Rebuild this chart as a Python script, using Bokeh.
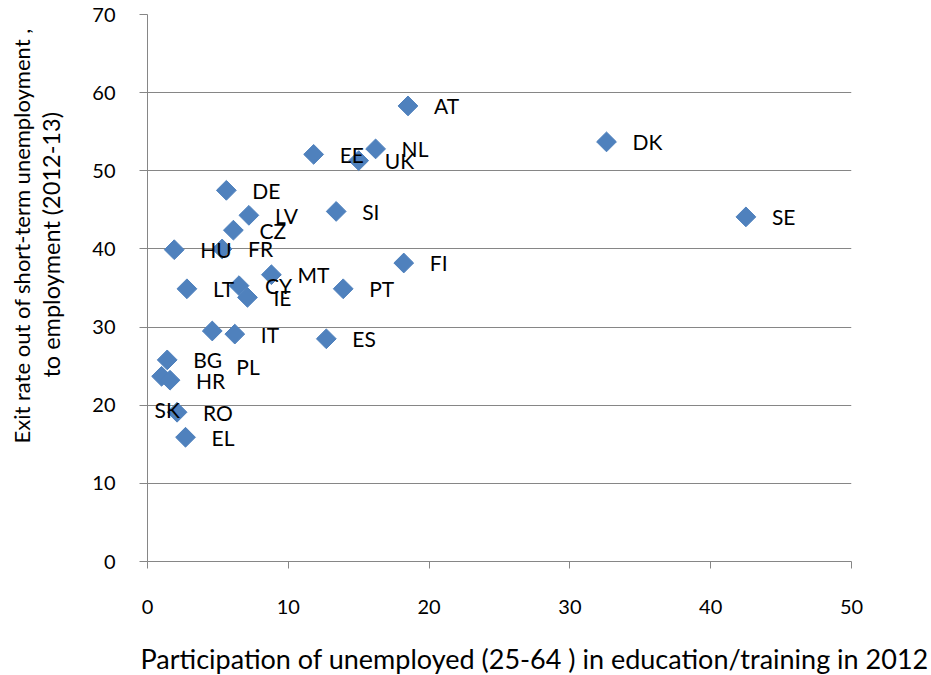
import math
from bokeh.plotting import figure
from bokeh.models import ColumnDataSource, Range1d, Title
from bokeh.core.properties import value
from bokeh.embed import file_html
from bokeh.resources import INLINE

# ---- data ----
countries = ["AT", "DK", "SE", "NL", "UK", "EE", "DE", "LV", "SI", "CZ", "HU", "FR", "FI",
             "MT", "LT", "CY", "IE", "PT", "IT", "PL", "ES", "BG", "SK", "HR", "RO", "EL"]
participation = [18.5, 32.6, 42.5, 16.2, 15.0, 11.8, 5.6, 7.2, 13.4, 6.1, 1.9, 5.3, 18.2,
                 8.8, 2.8, 6.5, 7.1, 13.9, 6.2, 4.6, 12.7, 1.4, 1.0, 1.6, 2.1, 2.7]
exit_rate = [58.3, 53.7, 44.1, 52.8, 51.3, 52.1, 47.5, 44.3, 44.8, 42.4, 39.9, 40.0, 38.2,
             36.7, 34.9, 35.3, 33.8, 34.9, 29.1, 29.5, 28.5, 25.8, 23.7, 23.2, 19.1, 15.9]
x_ticks = [0, 10, 20, 30, 40, 50]
y_ticks = [0, 10, 20, 30, 40, 50, 60, 70]

x_title = "Participation of unemployed (25-64 ) in education/training in 2012"
y_title_1 = "Exit rate out of short-term unemployment ,"
y_title_2 = "to employment (2012-13)"

# ---- styling / label placement ----
FONT = "Lato"
BLUE = "#4F81BD"
GREY = "#868686"
default_offset = (26, 0)
special_offsets = {"PL": (24, 36), "SK": (-7, 33)}
dx = [special_offsets.get(c, default_offset)[0] for c in countries]
dy = [special_offsets.get(c, default_offset)[1] for c in countries]

src = ColumnDataSource(dict(x=participation, y=exit_rate, name=countries, dx=dx, dy=dy))

p = figure(width=931, height=675, output_backend="svg", toolbar_location=None,
           x_range=Range1d(0, 50), y_range=Range1d(0, 70),
           min_border_left=147, min_border_right=80, min_border_top=14, min_border_bottom=114)
p.outline_line_color = None
p.background_fill_color = "white"
p.border_fill_color = "white"

p.xgrid.grid_line_color = None
p.ygrid.grid_line_color = GREY
p.ygrid.grid_line_width = 1

p.xaxis.ticker = x_ticks
p.yaxis.ticker = y_ticks
for ax in (p.xaxis[0], p.yaxis[0]):
    ax.axis_line_color = GREY
    ax.major_tick_line_color = GREY
    ax.major_tick_in = 0
    ax.minor_tick_line_color = None
    ax.major_label_text_font = FONT
    ax.major_label_text_font_size = "20px"
    ax.major_label_text_color = "black"
p.xaxis.major_tick_out = 7
p.xaxis.major_label_standoff = 31
p.yaxis.major_tick_out = 8
p.yaxis.major_label_standoff = 24
# invisible spacer label so the x title sits lower
p.xaxis.axis_label = " "
p.xaxis.axis_label_text_font_size = "10px"
p.xaxis.axis_label_standoff = 8

p.scatter("x", "y", source=src, marker="square", size=14, angle=math.pi / 4,
          fill_color=BLUE, line_color=BLUE)
p.text("x", "y", text="name", source=src, x_offset="dx", y_offset="dy",
       text_font=value(FONT), text_font_size="21px", text_color="black",
       text_align="left", text_baseline="middle")

def make_title(txt, align, offset, standoff, size):
    return Title(text=txt, align=align, offset=offset, standoff=standoff,
                 text_font=FONT, text_font_size=size, text_font_style="normal",
                 text_color="black")

p.add_layout(make_title(x_title, "left", -7, 2, "27px"), "below")
p.add_layout(make_title(" ", "left", 0, 8, "12px"), "left")
p.add_layout(make_title(y_title_2, "left", 184, 0, "23.5px"), "left")
p.add_layout(make_title(y_title_1, "left", 118, 0, "22px"), "left")

open("out.html", "w").write(file_html(p, INLINE))
